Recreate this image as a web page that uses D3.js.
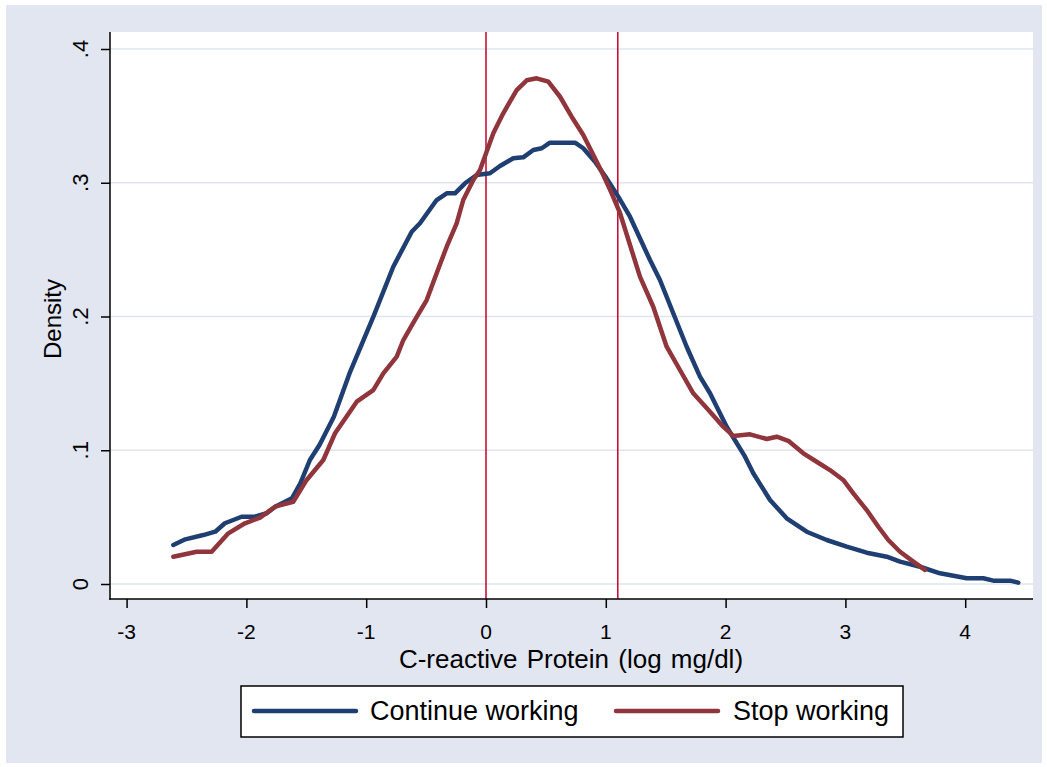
<!DOCTYPE html>
<html>
<head>
<meta charset="utf-8">
<script src="https://cdn.jsdelivr.net/npm/d3@7/dist/d3.min.js"></script>
<style>
  html, body { margin: 0; padding: 0; background: #ffffff; }
  svg { display: block; font-family: "Liberation Sans", Arial, sans-serif; }
</style>
</head>
<body>
<svg id="chart" width="1047" height="767"></svg>
<script>
// Kernel density of log C-reactive protein, by work status
const continueX = [-2.61, -2.51, -2.36, -2.26, -2.18, -2.04, -1.93, -1.83, -1.76, -1.62, -1.55, -1.47, -1.39, -1.27, -1.135, -0.94, -0.774, -0.62, -0.551, -0.412, -0.328, -0.259, -0.175, -0.078, 0.033, 0.117, 0.228, 0.311, 0.395, 0.465, 0.534, 0.743, 0.812, 0.91, 1.007, 1.104, 1.202, 1.369, 1.452, 1.563, 1.675, 1.786, 1.87, 2.009, 2.162, 2.231, 2.371, 2.51, 2.677, 2.844, 3.011, 3.178, 3.345, 3.456, 3.623, 3.79, 4.013, 4.151, 4.235, 4.374, 4.443];
const continueY = [0.0292, 0.0334, 0.0366, 0.0391, 0.0454, 0.0503, 0.0503, 0.0529, 0.0578, 0.0641, 0.0753, 0.0927, 0.1039, 0.1251, 0.1585, 0.1999, 0.2372, 0.2634, 0.2697, 0.2871, 0.2921, 0.2921, 0.2996, 0.3058, 0.3071, 0.3125, 0.3183, 0.319, 0.3245, 0.3258, 0.33, 0.33, 0.3258, 0.3157, 0.3033, 0.2896, 0.2746, 0.2422, 0.2273, 0.2024, 0.1774, 0.155, 0.1426, 0.1176, 0.0952, 0.0828, 0.0628, 0.0491, 0.0391, 0.0329, 0.0279, 0.0234, 0.0204, 0.0167, 0.0129, 0.008, 0.0043, 0.0043, 0.0025, 0.0025, 0.001];

const stopX = [-2.61, -2.415, -2.29, -2.151, -2.012, -1.886, -1.761, -1.609, -1.497, -1.358, -1.26, -1.079, -0.941, -0.857, -0.745, -0.69, -0.593, -0.495, -0.412, -0.328, -0.245, -0.19, -0.106, -0.05, 0.061, 0.144, 0.256, 0.34, 0.423, 0.52, 0.618, 0.715, 0.812, 0.896, 0.979, 1.049, 1.119, 1.285, 1.396, 1.508, 1.619, 1.73, 1.87, 1.98, 2.064, 2.204, 2.343, 2.427, 2.523, 2.649, 2.76, 2.871, 2.982, 3.066, 3.178, 3.275, 3.358, 3.456, 3.567, 3.664];
const stopY = [0.0204, 0.0241, 0.0241, 0.0379, 0.0454, 0.0496, 0.0578, 0.0615, 0.0778, 0.0927, 0.1127, 0.1363, 0.145, 0.1575, 0.17, 0.1824, 0.1974, 0.2123, 0.2323, 0.2522, 0.2697, 0.2871, 0.3021, 0.3095, 0.337, 0.3519, 0.3693, 0.3766, 0.3781, 0.3756, 0.3643, 0.3494, 0.3357, 0.3207, 0.3058, 0.2921, 0.2772, 0.2298, 0.2073, 0.1774, 0.16, 0.1426, 0.1288, 0.1176, 0.1107, 0.1119, 0.1084, 0.1101, 0.1071, 0.0977, 0.0914, 0.0852, 0.0778, 0.0678, 0.0553, 0.0428, 0.0329, 0.0241, 0.0167, 0.0105];

const seriesNames = ["Continue working", "Stop working"];
const xTicks = [-3, -2, -1, 0, 1, 2, 3, 4];
const yTicks = [0, 0.1, 0.2, 0.3, 0.4];
const yTickLabels = ["0", ".1", ".2", ".3", ".4"];
const refLines = [0, 1.1];

const colors = { "Continue working": "#1F3F73", "Stop working": "#90353B" };
const bg = "#E1E6F0";

const svg = d3.select("#chart");

// outer graph region
svg.append("rect").attr("x", 6).attr("y", 5).attr("width", 1036).attr("height", 758).attr("fill", bg);

// plot region
const plot = { left: 110, right: 1033, top: 32, bottom: 599 };
const x = d3.scaleLinear().domain([0, 1]).range([486, 605.8]);
const y = d3.scaleLinear().domain([0, 0.4]).range([584, 49]);

svg.append("rect")
  .attr("x", plot.left).attr("y", plot.top)
  .attr("width", plot.right - plot.left).attr("height", plot.bottom - plot.top)
  .attr("fill", "#ffffff");

// horizontal grid
svg.append("g").selectAll("line").data(yTicks).join("line")
  .attr("x1", plot.left).attr("x2", plot.right)
  .attr("y1", d => y(d)).attr("y2", d => y(d))
  .attr("stroke", "#DFE4EE").attr("stroke-width", 1.6);

// reference lines
svg.append("g").selectAll("line").data(refLines).join("line")
  .attr("x1", d => x(d)).attr("x2", d => x(d))
  .attr("y1", plot.top).attr("y2", plot.bottom)
  .attr("stroke", "#C8103A").attr("stroke-width", 1.6);

// density curves
const line = d3.line().x(d => x(d[0])).y(d => y(d[1]));
const series = [
  { name: seriesNames[0], pts: continueX.map((v, i) => [v, continueY[i]]) },
  { name: seriesNames[1], pts: stopX.map((v, i) => [v, stopY[i]]) }
];
svg.append("g").selectAll("path").data(series).join("path")
  .attr("d", d => line(d.pts))
  .attr("fill", "none")
  .attr("stroke", d => colors[d.name])
  .attr("stroke-width", 4.5)
  .attr("stroke-linejoin", "round")
  .attr("stroke-linecap", "round");

// y axis
const yAxis = d3.axisLeft(y).tickValues(yTicks).tickSize(9).tickFormat("");
const gy = svg.append("g").attr("transform", `translate(${plot.left},0)`).call(yAxis);
gy.select(".domain").remove();
gy.selectAll(".tick line").attr("stroke", "#000").attr("stroke-width", 1.5);
svg.append("line").attr("x1", plot.left).attr("x2", plot.left)
  .attr("y1", plot.top).attr("y2", plot.bottom + 0.75)
  .attr("stroke", "#000").attr("stroke-width", 1.5);
svg.append("g").selectAll("text").data(yTicks).join("text")
  .attr("transform", d => `translate(88,${y(d)}) rotate(-90)`)
  .attr("text-anchor", "middle")
  .attr("font-size", 22)
  .attr("fill", "#000")
  .text((d, i) => yTickLabels[i]);

// x axis
const xAxis = d3.axisBottom(x).tickValues(xTicks).tickSize(9).tickFormat("");
const gx = svg.append("g").attr("transform", `translate(0,${plot.bottom})`).call(xAxis);
gx.select(".domain").remove();
gx.selectAll(".tick line").attr("stroke", "#000").attr("stroke-width", 1.5);
svg.append("line").attr("x1", plot.left - 0.75).attr("x2", plot.right)
  .attr("y1", plot.bottom).attr("y2", plot.bottom)
  .attr("stroke", "#000").attr("stroke-width", 1.5);
svg.append("g").selectAll("text").data(xTicks).join("text")
  .attr("x", d => x(d)).attr("y", 639)
  .attr("text-anchor", "middle")
  .attr("font-size", 21)
  .attr("fill", "#000")
  .text(d => d);

// axis titles
svg.append("text").attr("x", 571).attr("y", 668)
  .attr("text-anchor", "middle").attr("font-size", 26).attr("fill", "#000")
  .attr("word-spacing", 2)
  .text("C-reactive Protein (log mg/dl)");
svg.append("text").attr("transform", "translate(61,319) rotate(-90)")
  .attr("text-anchor", "middle").attr("font-size", 24).attr("fill", "#000")
  .text("Density");

// legend
const lg = svg.append("g");
lg.append("rect").attr("x", 241).attr("y", 686).attr("width", 662).attr("height", 51)
  .attr("fill", "#ffffff").attr("stroke", "#000").attr("stroke-width", 1.5);
const legendItems = [
  { name: seriesNames[0], x0: 254, tx: 370 },
  { name: seriesNames[1], x0: 616, tx: 733 }
];
legendItems.forEach(it => {
  lg.append("line").attr("x1", it.x0).attr("x2", it.x0 + 102)
    .attr("y1", 711).attr("y2", 711)
    .attr("stroke", colors[it.name]).attr("stroke-width", 4.5).attr("stroke-linecap", "round");
  lg.append("text").attr("x", it.tx).attr("y", 720)
    .attr("font-size", 27).attr("fill", "#000").text(it.name);
});
</script>
</body>
</html>
